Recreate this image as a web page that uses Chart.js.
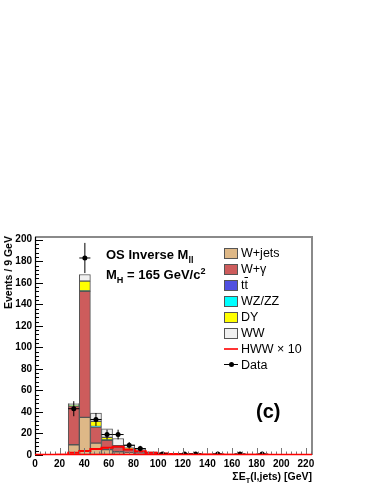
<!DOCTYPE html>
<html>
<head>
<meta charset="utf-8">
<script src="https://cdn.jsdelivr.net/npm/chart.js@4.4.1/dist/chart.umd.min.js"></script>
<style>
  html, body { margin:0; padding:0; background:#fff; }
  #wrap { position:relative; width:374px; height:484px; overflow:hidden; font-family:'Liberation Sans', Arial, Helvetica, sans-serif; color:#000; }
  #c { position:absolute; left:0; top:0; }
  .ov { position:absolute; white-space:nowrap; }
  .leg { position:absolute; left:224px; width:120px; font-size:12.5px; line-height:14px; white-space:nowrap; }
  .sw { position:absolute; left:0; width:12px; height:9px; border:1px solid #555; }
  .lt { position:absolute; left:17px; top:-7px; white-space:nowrap; }
  sub, sup { line-height:0; font-size:70%; }
</style>
</head>
<body>
<div id="wrap">
  <canvas id="c" width="374" height="484"></canvas>
</div>
<script>
// ---- data ----
const binWidth = 9; // GeV
const binCenters = [4.5, 13.5, 22.5, 31.5, 40.5, 49.5, 58.5, 67.5, 76.5, 85.5, 94.5, 103.5, 112.5,
                    121.5, 130.5, 139.5, 148.5, 157.5, 166.5, 175.5, 184.5, 193.5, 202.5, 211.5, 220.5];
const wJets  = [0, 0, 0, 9.5, 35, 11, 5, 3, 2, 1, 0.6, 0.4, 0.3, 0.2, 0.1, 0.1, 0.1, 0, 0, 0, 0, 0, 0, 0, 0];
const wGamma = [0, 0, 0, 36, 117, 15, 8.6, 4, 3, 1.5, 0.5, 0.3, 0.2, 0.1, 0.1, 0, 0, 0, 0, 0, 0, 0, 0, 0, 0];
const ttbar  = [0, 0, 0, 0, 0, 0.1, 0.2, 0.3, 0.3, 0.3, 0.3, 0.3, 0.2, 0.2, 0.2, 0.1, 0.1, 0.1, 0.1, 0, 0, 0, 0, 0, 0];
const wzzz   = [0, 0, 0, 0.2, 0.5, 0.4, 0.3, 0.3, 0.2, 0.2, 0.1, 0.1, 0.1, 0, 0, 0, 0, 0, 0, 0, 0, 0, 0, 0, 0];
const dy     = [0, 0, 0, 1, 9, 4.7, 2.2, 1, 0.8, 0.4, 0.2, 0.1, 0, 0, 0, 0, 0, 0, 0, 0, 0, 0, 0, 0, 0];
const ww     = [0, 0, 0, 1, 6.2, 7.8, 8.1, 6.7, 3.2, 2.3, 1.3, 0.9, 0.7, 0.5, 0.4, 0.3, 0.3, 0.2, 0.2, 0.1, 0.1, 0.1, 0.1, 0, 0];
const hwwX10 = [0, 0, 0, 0.3, 2, 3.7, 5.6, 6.8, 7.7, 5, 3.4, 2, 1.5, 1, 0.8, 0.6, 0.5, 0.4, 0.3, 0.3, 0.2, 0.2, 0.1, 0.1, 0.1];
const dataX   = [31.5, 40.5, 49.5, 58.5, 67.5, 76.5, 85.5, 103.5, 121.5, 130.5, 148.5, 166.5, 184.5];
const dataY   = [43, 183, 33, 19, 19, 9, 6, 1, 1, 1, 1, 1, 1];
const dataErr = [7, 14, 6, 4.5, 4.5, 3, 2.5, 1.2, 1.2, 1.2, 1.2, 1.2, 1.2];
const xTicks = [0, 20, 40, 60, 80, 100, 120, 140, 160, 180, 200, 220];
const yTicks = [0, 20, 40, 60, 80, 100, 120, 140, 160, 180, 200];
const xRange = [0, 225];
const yRange = [0, 202.5];

const series = [
  { label: 'W+jets', values: wJets,  color: '#deb887' },
  { label: 'W+\u03b3', values: wGamma, color: '#cd5c5c' },
  { label: 'tt\u0304', values: ttbar,  color: '#5050e0' },
  { label: 'WZ/ZZ', values: wzzz,   color: '#00ffff' },
  { label: 'DY',    values: dy,     color: '#ffff00' },
  { label: 'WW',    values: ww,     color: '#f0f0f0' }
];

Chart.defaults.font.family = "'Liberation Sans', Arial, Helvetica, sans-serif";
Chart.defaults.color = '#000';

const barSets = series.map(s => ({
  type: 'bar',
  label: s.label,
  data: binCenters.map((x, i) => ({ x: x, y: s.values[i] })),
  backgroundColor: s.color,
  borderColor: '#555',
  borderWidth: 1,
  borderSkipped: false,
  barPercentage: 1.0,
  categoryPercentage: 1.0,
  stack: 'mc',
  order: 3
}));

const hwwPts = binCenters.map((x, i) => ({ x: x - binWidth / 2, y: hwwX10[i] }));
hwwPts.push({ x: xRange[1], y: hwwX10[hwwX10.length - 1] });

const hwwSet = {
  type: 'line',
  label: 'HWW \u00d7 10',
  data: hwwPts,
  stepped: 'after',
  borderColor: '#ff0000',
  borderWidth: 2,
  pointRadius: 0,
  fill: false,
  stack: 'hww',
  order: 2
};

const dataSet = {
  type: 'scatter',
  label: 'Data',
  data: dataX.map((x, i) => ({ x: x, y: dataY[i] })),
  backgroundColor: '#000',
  borderColor: '#000',
  pointRadius: 2.5,
  pointBorderWidth: 0,
  stack: 'data',
  order: 1
};

const errorBars = {
  id: 'errorBars',
  afterDatasetsDraw(chart) {
    const xs = chart.scales.x, ys = chart.scales.y, ctx = chart.ctx;
    ctx.save();
    ctx.strokeStyle = '#000';
    ctx.lineWidth = 1;
    dataX.forEach((x, i) => {
      const px = xs.getPixelForValue(x);
      const py = ys.getPixelForValue(dataY[i]);
      ctx.beginPath();
      ctx.moveTo(px, ys.getPixelForValue(Math.max(0, dataY[i] - dataErr[i])));
      ctx.lineTo(px, ys.getPixelForValue(dataY[i] + dataErr[i]));
      ctx.moveTo(xs.getPixelForValue(x - binWidth / 2), py);
      ctx.lineTo(xs.getPixelForValue(x + binWidth / 2), py);
      ctx.stroke();
    });
    ctx.restore();
  }
};

const frameTicks = {
  id: 'frameTicks',
  afterDraw(chart) {
    const a = chart.chartArea, xs = chart.scales.x, ys = chart.scales.y, ctx = chart.ctx;
    ctx.save();
    // top and right frame (grey)
    ctx.strokeStyle = '#8a8a8a';
    ctx.lineWidth = 2;
    ctx.beginPath();
    ctx.moveTo(a.left, a.top);
    ctx.lineTo(a.right, a.top);
    ctx.lineTo(a.right, a.bottom);
    ctx.stroke();
    // y ticks (inward)
    ctx.strokeStyle = '#000';
    ctx.lineWidth = 1;
    ctx.beginPath();
    for (let v = yRange[0]; v <= yRange[1] + 1e-6; v += 4) {
      const major = yTicks.includes(v);
      const py = Math.round(ys.getPixelForValue(v)) + 0.5;
      ctx.moveTo(a.left, py);
      ctx.lineTo(a.left + (major ? 8 : 4), py);
    }
    ctx.stroke();
    // x ticks (inward, grey)
    ctx.strokeStyle = '#777';
    ctx.beginPath();
    for (let v = xRange[0]; v <= xRange[1] + 1e-6; v += 4) {
      const major = xTicks.includes(v);
      const px = Math.round(xs.getPixelForValue(v)) + 0.5;
      ctx.moveTo(px, a.bottom);
      ctx.lineTo(px, a.bottom - (major ? 7 : 3.5));
    }
    ctx.stroke();
    // left axis line
    ctx.strokeStyle = '#000';
    ctx.lineWidth = 1.2;
    ctx.beginPath();
    ctx.moveTo(a.left + 0.5, a.top);
    ctx.lineTo(a.left + 0.5, a.bottom);
    ctx.stroke();
    // bottom axis line, then HWW overlays it in red
    ctx.beginPath();
    ctx.moveTo(a.left, a.bottom - 0.5);
    ctx.lineTo(a.right, a.bottom - 0.5);
    ctx.stroke();
    ctx.strokeStyle = '#ff0000';
    ctx.lineWidth = 1.5;
    ctx.beginPath();
    ctx.moveTo(a.left, a.bottom - 0.5);
    ctx.lineTo(a.right, a.bottom - 0.5);
    ctx.stroke();
    ctx.restore();
  }
};

new Chart(document.getElementById('c'), {
  data: { datasets: [...barSets, hwwSet, dataSet] },
  options: {
    responsive: false,
    animation: false,
    layout: { padding: { left: 0, top: 237, right: 62, bottom: 0 } },
    plugins: { legend: { display: false }, tooltip: { enabled: false } },
    scales: {
      x: {
        type: 'linear',
        min: xRange[0], max: xRange[1],
        offset: false,
        stacked: true,
        grid: { color: 'transparent', drawTicks: false },
        border: { display: false },
        afterBuildTicks: s => { s.ticks = xTicks.map(v => ({ value: v })); },
        afterFit: s => { s.height = 29; },
        ticks: { font: { size: 10, weight: 'bold' }, padding: 3, maxRotation: 0, autoSkip: false, color: '#000' }
      },
      y: {
        type: 'linear',
        min: yRange[0], max: yRange[1],
        stacked: true,
        grid: { color: 'transparent', drawTicks: false },
        border: { display: false },
        afterBuildTicks: s => { s.ticks = yTicks.map(v => ({ value: v })); },
        afterFit: s => { s.width = 35; },
        ticks: { font: { size: 10, weight: 'bold' }, padding: 3, autoSkip: false, color: '#000' }
      }
    }
  },
  plugins: [errorBars, frameTicks]
});

// ---- HTML text overlays ----
const wrap = document.getElementById('wrap');
function addDiv(html, style) {
  const d = document.createElement('div');
  d.className = 'ov';
  d.innerHTML = html;
  Object.assign(d.style, style);
  wrap.appendChild(d);
  return d;
}
addDiv('OS Inverse M<sub>ll</sub>', { left: '106px', top: '247px', fontSize: '13px', fontWeight: 'bold', lineHeight: '16px' });
addDiv('M<sub>H</sub> = 165 GeV/c<sup>2</sup>', { left: '106px', top: '267px', fontSize: '13px', fontWeight: 'bold', lineHeight: '16px' });
addDiv('(c)', { left: '256px', top: '399px', fontSize: '20px', fontWeight: 'bold', lineHeight: '24px' });
addDiv('\u03a3E<sub>T</sub>(l,jets) [GeV]', { right: '62px', top: '470px', fontSize: '10.5px', fontWeight: 'bold', lineHeight: '13px' });
addDiv('Events / 9 GeV', { left: '2px', top: '236px', fontSize: '10.5px', fontWeight: 'bold', lineHeight: '12px',
  transformOrigin: '0 0', transform: 'rotate(-90deg) translate(-100%, 0)' });

// legend
const legendRows = series.map(s => ({ label: s.label, kind: 'box', color: s.color }));
legendRows.push({ label: 'HWW \u00d7 10', kind: 'line', color: '#ff3333' });
legendRows.push({ label: 'Data', kind: 'data', color: '#000' });
legendRows.forEach((r, i) => {
  const row = document.createElement('div');
  row.className = 'leg';
  row.style.top = (253.3 + i * 15.95) + 'px';
  let sym = '';
  if (r.kind === 'box') {
    sym = '<div class="sw" style="top:-5px;background:' + r.color + '"></div>';
  } else if (r.kind === 'line') {
    sym = '<div style="position:absolute;left:0;top:-1px;width:14px;height:2px;background:' + r.color + '"></div>';
  } else {
    sym = '<div style="position:absolute;left:0;top:-0.5px;width:14px;height:1px;background:#000"></div>' +
          '<div style="position:absolute;left:4.5px;top:-2.5px;width:5px;height:5px;border-radius:50%;background:#000"></div>';
  }
  const txt = r.label === 'tt\u0304' ? 't<span style="text-decoration:overline">t</span>' : r.label;
  row.innerHTML = sym + '<div class="lt">' + txt + '</div>';
  wrap.appendChild(row);
});
</script>
</body>
</html>
